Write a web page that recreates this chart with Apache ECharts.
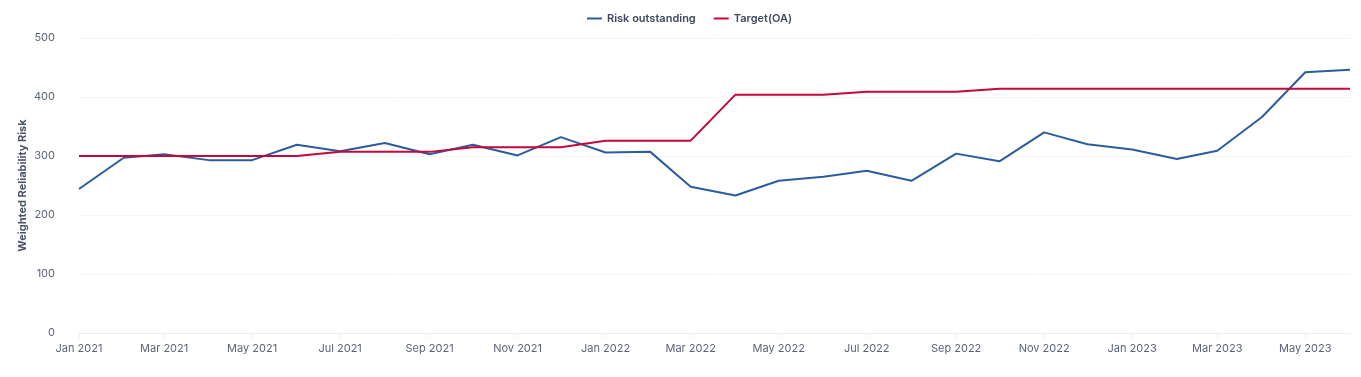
<!DOCTYPE html>
<html>
<head>
<meta charset="utf-8">
<script src="https://cdn.jsdelivr.net/npm/echarts@6/dist/echarts.min.js"></script>
<style>
  html, body { margin: 0; padding: 0; background: #fff; }
  #chart { width: 1361px; height: 377px; }
</style>
</head>
<body>
<div id="chart"></div>
<script>
// monthly points, first of each month
const months = [
  '2021-01-01', '2021-02-01', '2021-03-01', '2021-04-01', '2021-05-01', '2021-06-01',
  '2021-07-01', '2021-08-01', '2021-09-01', '2021-10-01', '2021-11-01', '2021-12-01',
  '2022-01-01', '2022-02-01', '2022-03-01', '2022-04-01', '2022-05-01', '2022-06-01',
  '2022-07-01', '2022-08-01', '2022-09-01', '2022-10-01', '2022-11-01', '2022-12-01',
  '2023-01-01', '2023-02-01', '2023-03-01', '2023-04-01', '2023-05-01', '2023-06-01'
];
const riskOutstanding = [
  244, 297, 303, 293, 293, 319, 308, 322, 303, 319, 301, 332,
  306, 307, 248, 233, 258, 265, 275, 258, 304, 291, 340, 320,
  311, 295, 309, 366, 442, 446
];
const targetOA = [
  300, 300, 300, 300, 300, 300, 307, 307, 307, 315, 315, 315,
  326, 326, 326, 404, 404, 404, 409, 409, 409, 414, 414, 414,
  414, 414, 414, 414, 414, 414
];
const yTicks = { min: 0, max: 500, interval: 100 };

const monthNames = ['Jan', 'Feb', 'Mar', 'Apr', 'May', 'Jun', 'Jul', 'Aug', 'Sep', 'Oct', 'Nov', 'Dec'];
const toDate = (s) => {
  const p = s.split('-').map(Number);
  return new Date(p[0], p[1] - 1, p[2]).getTime();
};
const pairs = (vals) => months.map((m, i) => [toDate(m), vals[i]]);

const textColor = '#5b6478';
const chart = echarts.init(document.getElementById('chart'));
chart.setOption({
  animation: false,
  textStyle: { fontFamily: 'Inter, sans-serif' },
  legend: {
    top: 8,
    left: 582,
    itemWidth: 15,
    itemHeight: 2,
    itemGap: 18,
    icon: 'rect',
    textStyle: { color: '#3f4a60', fontSize: 11, fontWeight: 600, fontFamily: 'Inter, sans-serif' },
    data: ['Risk outstanding', 'Target(OA)']
  },
  grid: { left: 79, right: 11, top: 38, bottom: 44, outerBoundsMode: 'none' },
  xAxis: {
    type: 'time',
    min: toDate(months[0]),
    max: toDate(months[months.length - 1]),
    minInterval: 75 * 86400000,
    maxInterval: 75 * 86400000,
    splitNumber: 11,
    axisLine: { lineStyle: { color: '#eceef1' } },
    axisTick: { show: true, length: 5, lineStyle: { color: '#eceef1' } },
    splitLine: { show: false },
    axisLabel: {
      color: textColor,
      fontSize: 11,
      margin: 10,
      showMaxLabel: false,
      formatter: (v) => {
        const d = new Date(v);
        return monthNames[d.getMonth()] + ' ' + d.getFullYear();
      }
    }
  },
  yAxis: {
    type: 'value',
    min: yTicks.min,
    max: yTicks.max,
    interval: yTicks.interval,
    name: 'Weighted Reliability Risk',
    nameLocation: 'middle',
    nameGap: 51,
    nameMoveOverlap: false,
    nameTextStyle: { color: '#4a5468', fontSize: 11, fontWeight: 'bold', fontFamily: 'Inter, sans-serif' },
    axisLine: { show: false },
    axisTick: { show: false },
    axisLabel: { color: textColor, fontSize: 11, margin: 24 },
    splitLine: { lineStyle: { color: '#f3f4f6' } }
  },
  series: [
    {
      name: 'Risk outstanding',
      type: 'line',
      data: pairs(riskOutstanding),
      symbol: 'none',
      lineStyle: { color: '#2b5c9c', width: 2 },
      itemStyle: { color: '#2b5c9c' }
    },
    {
      name: 'Target(OA)',
      type: 'line',
      data: pairs(targetOA),
      symbol: 'none',
      lineStyle: { color: '#c5073a', width: 2 },
      itemStyle: { color: '#c5073a' }
    }
  ]
});
</script>
</body>
</html>
